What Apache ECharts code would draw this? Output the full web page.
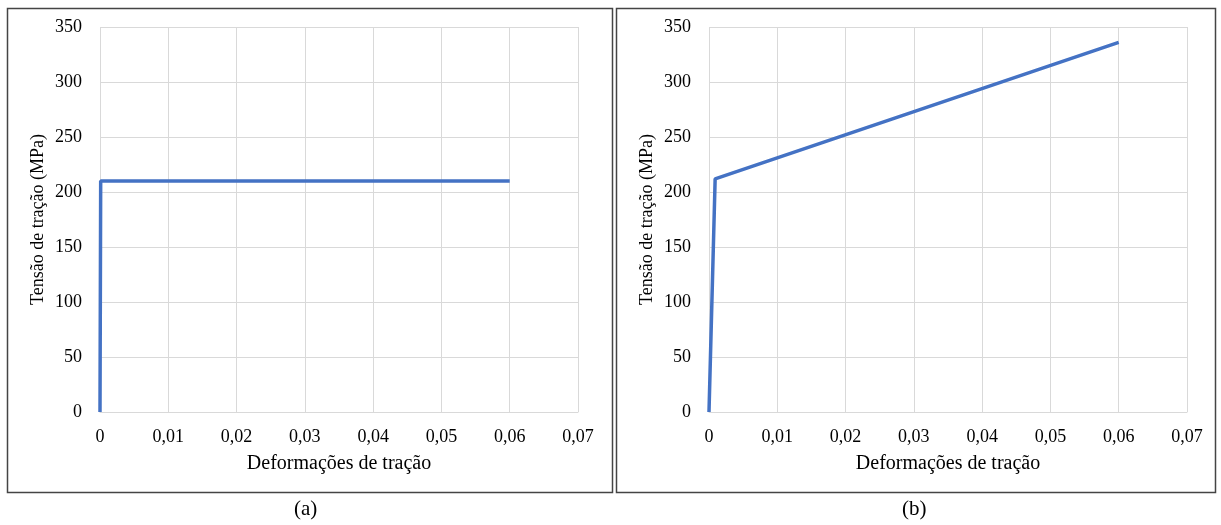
<!DOCTYPE html>
<html>
<head>
<meta charset="utf-8">
<script src="https://cdn.jsdelivr.net/npm/echarts@6/dist/echarts.min.js"></script>
<style>html,body{margin:0;padding:0;background:#fff}#c{width:1221px;height:525px}</style>
</head>
<body>
<div id="c"></div>
<script>
const xTicks = [0, 0.01, 0.02, 0.03, 0.04, 0.05, 0.06, 0.07];
const yTicks = [0, 50, 100, 150, 200, 250, 300, 350];
const strainA = [0, 0.0001, 0.06];
const stressA = [0, 210, 210];
const strainB = [0, 0.0009, 0.06];
const stressB = [0, 212, 336];
const xTitle = 'Deformações de tração';
const yTitle = 'Tensão de tração (MPa)';
const captions = ['(a)', '(b)'];

const FONT = 'Liberation Serif';
const chart = echarts.init(document.getElementById('c'), null, {renderer: 'canvas'});
function xAxis(gi) {
  return {
    type: 'value', gridIndex: gi, min: 0, max: 0.07, interval: 0.01,
    name: xTitle, nameLocation: 'middle', nameGap: 42,
    nameTextStyle: {fontFamily: FONT, fontSize: 20, color: '#000'},
    axisLine: {lineStyle: {color: '#d9d9d9', width: 1}},
    axisTick: {show: false},
    axisLabel: {fontFamily: FONT, fontSize: 18, color: '#000', margin: 16,
      formatter: v => String(Math.round(v * 100) / 100).replace('.', ',')},
    splitLine: {show: true, lineStyle: {color: '#d9d9d9', width: 1}}
  };
}
function yAxis(gi) {
  return {
    type: 'value', gridIndex: gi, min: 0, max: 350, interval: 50,
    name: yTitle, nameLocation: 'middle', nameGap: 53,
    nameTextStyle: {fontFamily: FONT, fontSize: 18, color: '#000'},
    axisLine: {show: false}, axisTick: {show: false},
    axisLabel: {fontFamily: FONT, fontSize: 18, color: '#000', margin: 18},
    splitLine: {show: true, lineStyle: {color: '#d9d9d9', width: 1}}
  };
}
function series(gi, xs, ys) {
  return {
    type: 'line', xAxisIndex: gi, yAxisIndex: gi, symbol: 'none',
    data: xs.map((x, i) => [x, ys[i]]),
    lineStyle: {color: '#4472C4', width: 3.5}, animation: false
  };
}
chart.setOption({
  animation: false,
  grid: [
    {left: 100, top: 27, width: 478, height: 385},
    {left: 709, top: 27, width: 478, height: 385}
  ],
  xAxis: [xAxis(0), xAxis(1)],
  yAxis: [yAxis(0), yAxis(1)],
  series: [series(0, strainA, stressA), series(1, strainB, stressB)],
  graphic: [
    {type: 'rect', shape: {x: 7.5, y: 8.5, width: 605, height: 484}, style: {fill: 'none', stroke: '#444', lineWidth: 1.5}},
    {type: 'rect', shape: {x: 616.5, y: 8.5, width: 599, height: 484}, style: {fill: 'none', stroke: '#444', lineWidth: 1.5}},
    {type: 'text', left: 294, top: 499, style: {text: captions[0], font: '21px "Liberation Serif"', fill: '#000'}},
    {type: 'text', left: 902, top: 499, style: {text: captions[1], font: '21px "Liberation Serif"', fill: '#000'}}
  ]
});
</script>
</body>
</html>
